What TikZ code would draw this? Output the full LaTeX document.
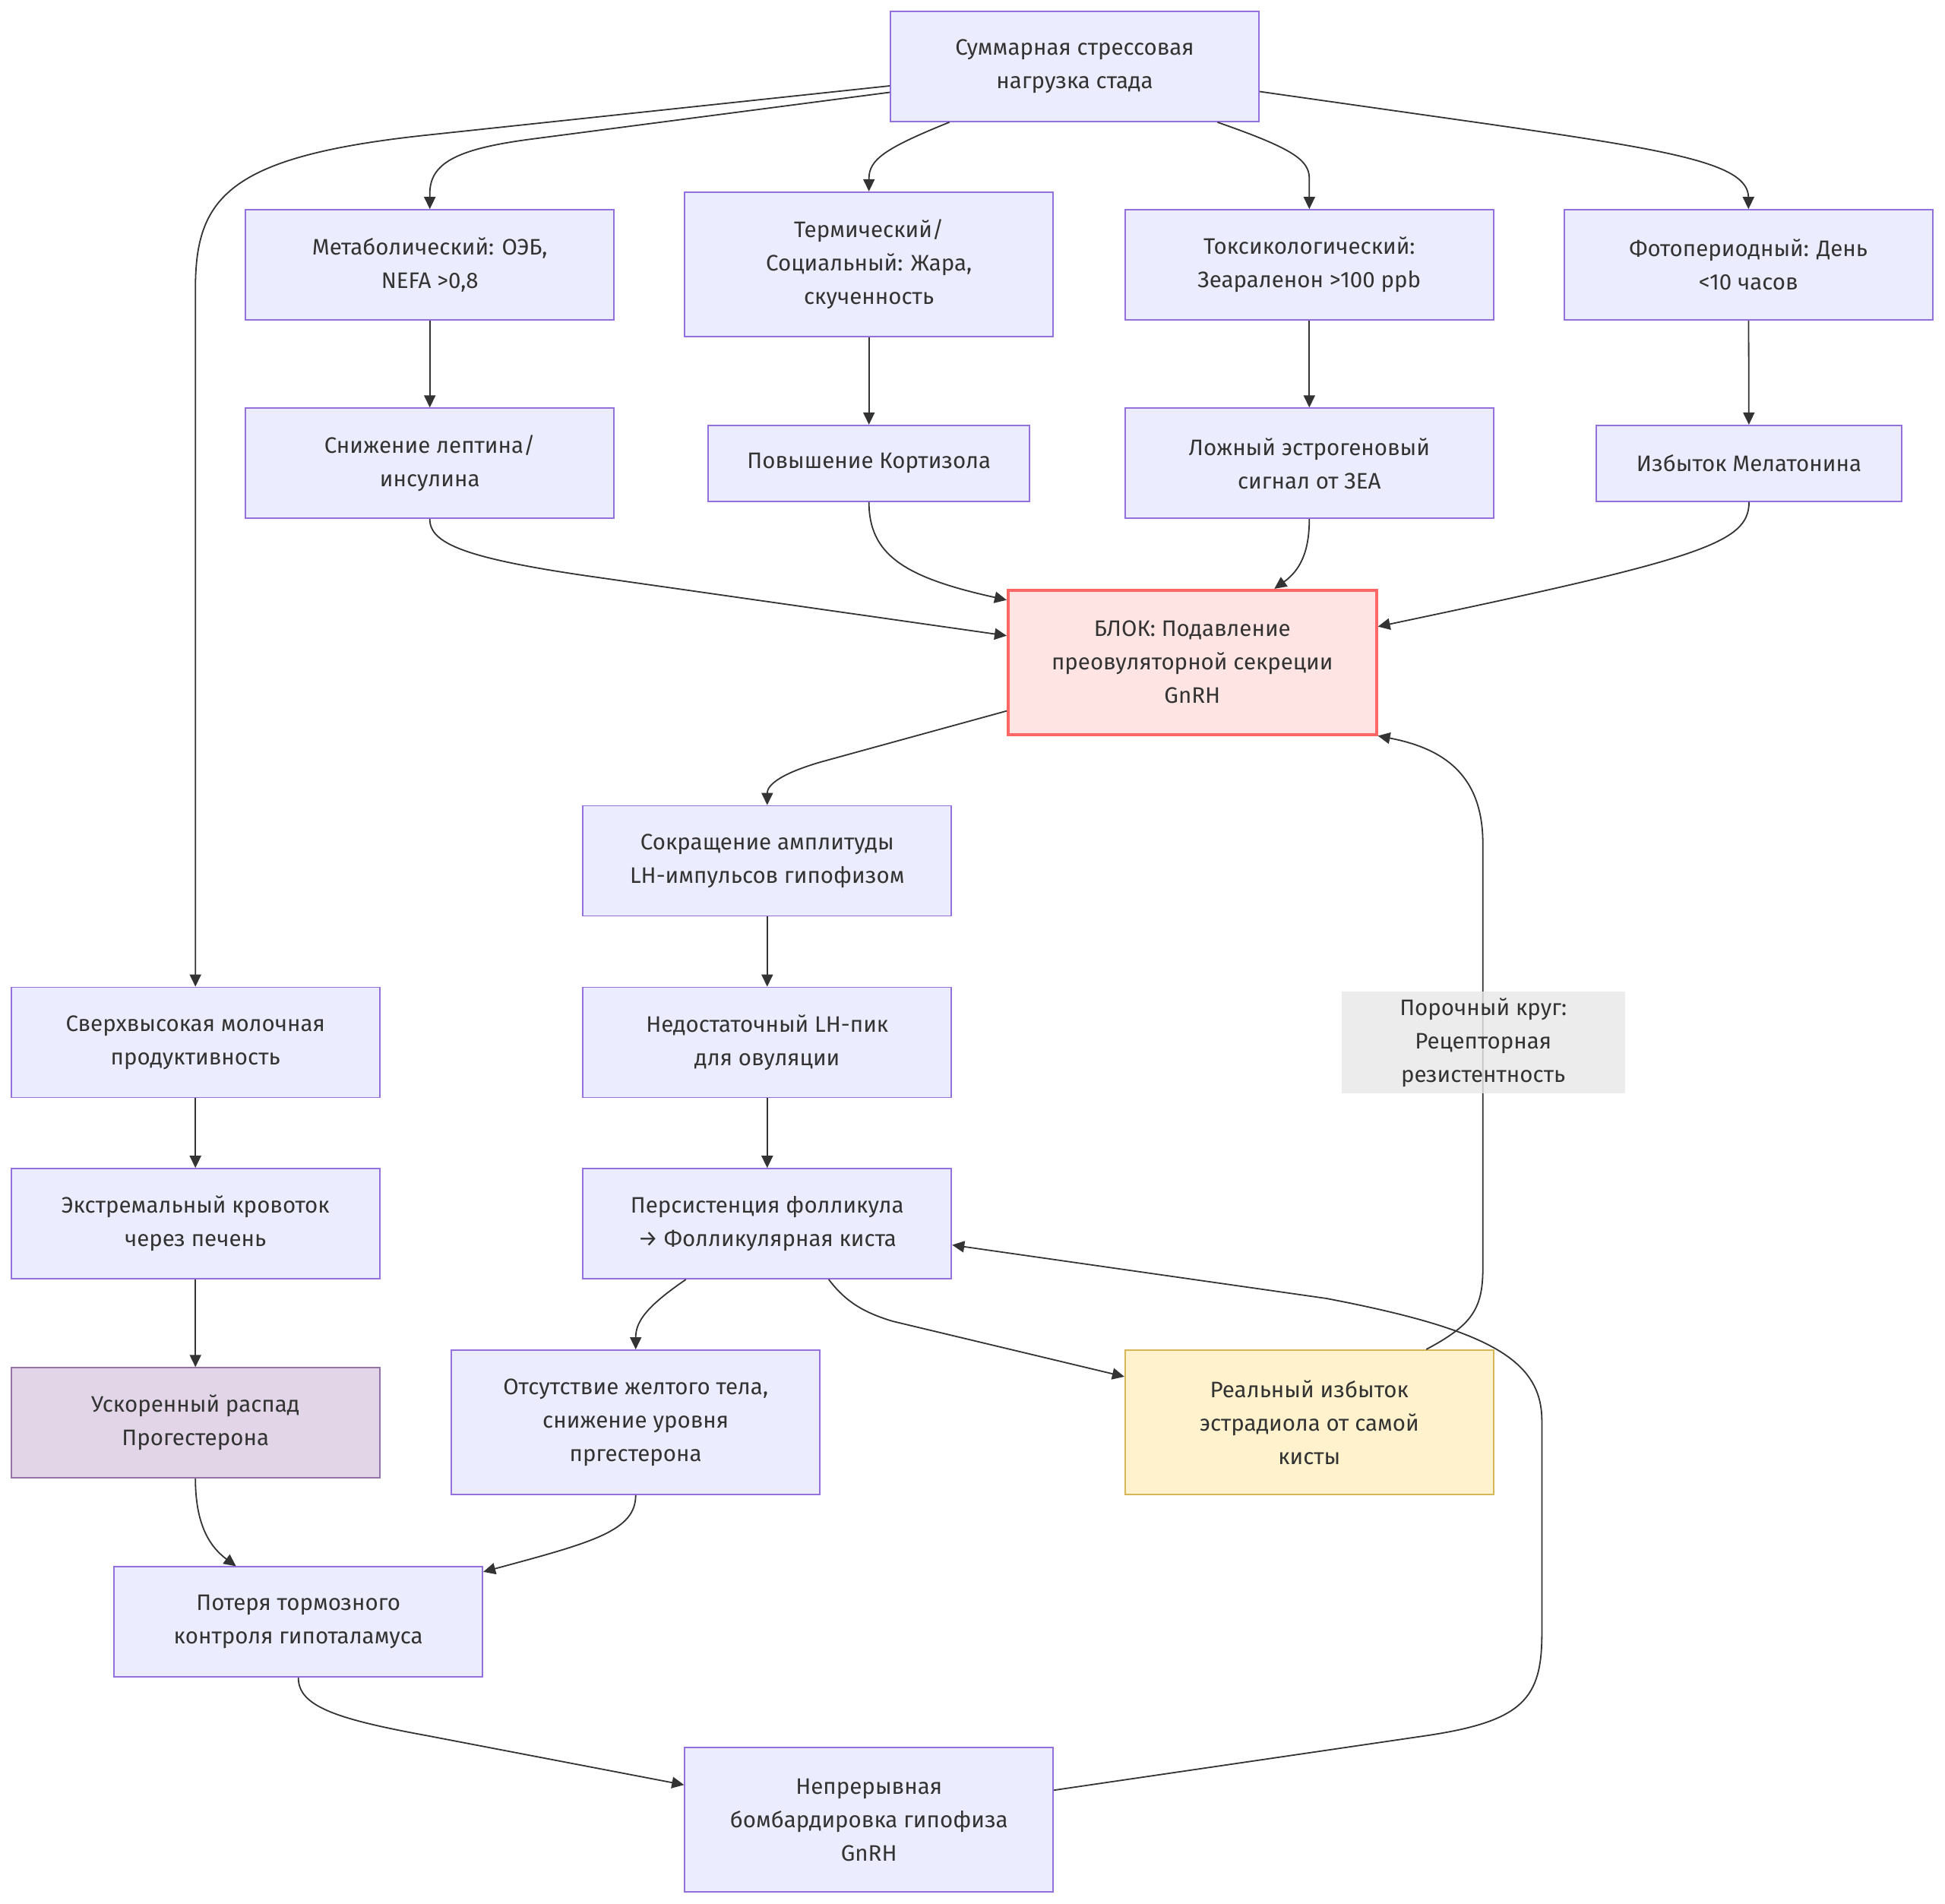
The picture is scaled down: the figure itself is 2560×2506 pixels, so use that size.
\documentclass[tikz,border=0pt]{standalone}
\usepackage{fontspec}
\setmainfont{Fira Sans}
\usetikzlibrary{arrows.meta,calc}
\definecolor{nodefill}{HTML}{ECECFF}
\definecolor{nodeline}{HTML}{9370DB}
\definecolor{txt}{HTML}{333333}
\definecolor{edgec}{HTML}{333333}
\definecolor{blkfill}{HTML}{FFE4E4}
\definecolor{blkline}{HTML}{FF6666}
\definecolor{yelfill}{HTML}{FFF2CC}
\definecolor{yelline}{HTML}{D6B656}
\definecolor{purfill}{HTML}{E1D5E7}
\definecolor{purline}{HTML}{9673A6}
\definecolor{lblfill}{HTML}{E8E8E8}
\begin{document}
\begin{tikzpicture}[x=1pt,y=-1pt,
 box/.style={draw=nodeline, fill=nodefill, line width=1.8pt, minimum width=485pt, minimum height=145pt, align=center, text=txt, inner sep=0pt, font=\fontsize{29.5}{44}\selectfont},
 tall/.style={minimum height=190pt},
 short/.style={minimum height=100pt},
 blk/.style={draw=blkline, fill=blkfill, line width=3.6pt},
 yel/.style={draw=yelline, fill=yelfill},
 pur/.style={draw=purline, fill=purfill},
 link/.style={draw=edgec, line width=1.8pt, -{Triangle[length=16pt,width=15pt]}},
 lblstyle/.style={fill=lblfill, fill opacity=0.8, text opacity=1, text=txt, align=center, inner sep=0pt, minimum width=373pt, minimum height=134pt, font=\fontsize{29.5}{44}\selectfont},
]
\useasboundingbox[fill=white] (0,0) rectangle (2560,2506);

\node[box] (top) at (1414.5,87.5) {Суммарная стрессовая\\нагрузка стада};
\node[box] (met) at (565.7,348.6) {Метаболический: ОЭБ,\\NEFA >0,8};
\node[box,tall] (term) at (1143.7,347.8) {Термический/\\Социальный: Жара,\\скученность};
\node[box] (tox) at (1723.3,348.6) {Токсикологический:\\Зеараленон >100 ppb};
\node[box] (foto) at (2301.3,348.6) {Фотопериодный: День\\<10 часов};
\node[box] (snizh) at (565.7,609.8) {Снижение лептина/\\инсулина};
\node[box,short,minimum width=423pt] (kort) at (1143.7,609.8) {Повышение Кортизола};
\node[box] (lozh) at (1723.3,609.8) {Ложный эстрогеновый\\сигнал от ЗЕА};
\node[box,short,minimum width=402pt] (melat) at (2302,609.8) {Избыток Мелатонина};
\node[box,tall,blk] (blok) at (1569.3,871.7) {БЛОК: Подавление\\преовуляторной секреции\\GnRH};
\node[box] (sokr) at (1009.8,1133) {Сокращение амплитуды\\LH-импульсов гипофизом};
\node[box] (sverh) at (257.2,1372) {Сверхвысокая молочная\\продуктивность};
\node[box] (nedost) at (1009.8,1372) {Недостаточный LH-пик\\для овуляции};
\node[box] (ekstr) at (257.2,1610.6) {Экстремальный кровоток\\через печень};
\node[box] (pers) at (1009.8,1610.6) {Персистенция фолликула\\→ Фолликулярная киста};
\node[box,pur] (uskor) at (257.2,1872.7) {Ускоренный распад\\Прогестерона};
\node[box,tall] (otsut) at (836.7,1871.9) {Отсутствие желтого тела,\\снижение уровня\\пргестерона};
\node[box,tall,yel] (real) at (1723.3,1871.9) {Реальный избыток\\эстрадиола от самой\\кисты};
\node[box] (poter) at (392.7,2134.8) {Потеря тормозного\\контроля гипоталамуса};
\node[box,tall] (nepr) at (1143.7,2395.2) {Непрерывная\\бомбардировка гипофиза\\GnRH};

% edges from top
\draw[link] ($(top.west)+(0,25.5)$) -- (560,178) .. controls (300,206) and (257.2,260) .. (257.2,380) -- (sverh.north);
\draw[link] ($(top.west)+(0,34)$) -- (700,183) .. controls (600,196) and (565.7,215) .. (565.7,255) -- (met.north);
\draw[link] ($(top.south)+(-165,0)$) .. controls (1165,195) and (1143.7,210) .. (1143.7,235) -- (term.north);
\draw[link] ($(top.south)+(188,0)$) .. controls (1700,195) and (1723.3,210) .. (1723.3,235) -- (tox.north);
\draw[link] ($(top.east)+(0,33)$) -- (1957,163) .. controls (2200,198) and (2301.3,215) .. (2301.3,260) -- (foto.north);
% verticals
\draw[link] (met) -- (snizh);
\draw[link] (term) -- (kort);
\draw[link] (tox) -- (lozh);
\draw[link] (foto) -- (melat);
% into block
\draw[link] (snizh.south) .. controls (565.7,715) and (610,735) .. (787,760) -- ($(blok.west)+(0,-35)$);
\draw[link] (kort.south) .. controls (1143.7,730) and (1190,760) .. ($(blok.west)+(0,-82)$);
\draw[link] (lozh.south) .. controls (1723.3,725) and (1712,750) .. ($(blok.north)+(108,0)$);
\draw[link] (melat.south) .. controls (2302,715) and (2240,735) .. ($(blok.east)+(0,-47)$);
% block down
\draw[link] ($(blok.west)+(0,64)$) -- (1080,1003) .. controls (1022,1020) and (1009.8,1035) .. (sokr.north);
\draw[link] (sokr) -- (nedost);
\draw[link] (nedost) -- (pers);
\draw[link] (sverh) -- (ekstr);
\draw[link] (ekstr) -- (uskor);
\draw[link] ($(pers.south)+(-107,0)$) .. controls (850,1720) and (836.7,1740) .. (otsut.north);
\draw[link] ($(pers.south)+(81,0)$) .. controls (1112,1712) and (1135,1727) .. (1175,1739) -- ($(real.west)+(0,-60)$);
% vicious circle
\draw[link] ($(real.north)+(154,0)$) .. controls (1935,1745) and (1951.7,1725) .. (1951.7,1670) -- (1951.7,1110) .. controls (1951.7,1020) and (1900,985) .. (blok.south east);
\node[lblstyle] (lbl) at (1952.2,1372) {Порочный круг:\\Рецепторная\\резистентность};
% bottom
\draw[link] (uskor.south) .. controls (257.2,2005) and (275,2035) .. ($(poter.north)+(-82,0)$);
\draw[link] (otsut.south) .. controls (836.7,2015) and (780,2030) .. ($(poter.east)+(0,-66)$);
\draw[link] (poter.south) .. controls (392.7,2245) and (440,2262) .. (560,2284) -- ($(nepr.west)+(0,-46)$);
\draw[link] ($(nepr.east)+(0,-39)$) -- (1880,2284) .. controls (2005,2265) and (2029.4,2235) .. (2029.4,2150) -- (2029.4,1870) .. controls (2029.4,1790) and (1960,1750) .. (1746,1709) -- ($(pers.east)+(0,28)$);
\end{tikzpicture}
\end{document}
